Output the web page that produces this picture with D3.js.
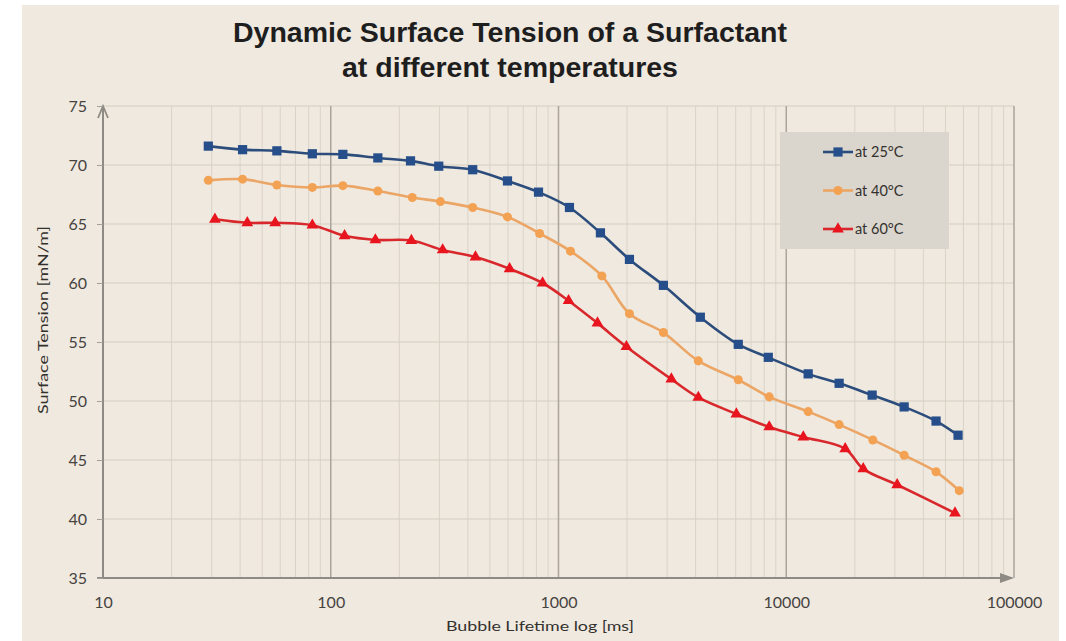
<!DOCTYPE html>
<html>
<head>
<meta charset="utf-8">
<script src="https://cdn.jsdelivr.net/npm/d3@7"></script>
<style>
  body { margin: 0; background: #ffffff; }
  svg { display: block; }
</style>
</head>
<body>
<svg id="main-chart"></svg>
<script>
// bubble lifetime [ms] and surface tension [mN/m]
const lifetime25 = [29, 41, 58, 83, 113, 161, 224, 298, 420, 597, 817, 1117, 1528, 2049, 2888, 4195, 6156, 8340, 12480, 17070, 23830, 32940, 45480, 56800];
const tension25  = [71.6, 71.3, 71.2, 70.95, 70.9, 70.6, 70.35, 69.9, 69.6, 68.65, 67.7, 66.4, 64.25, 62.0, 59.8, 57.1, 54.8, 53.7, 52.3, 51.5, 50.5, 49.5, 48.3, 47.1];

const lifetime40 = [29, 41, 58, 83, 113, 161, 228, 303, 420, 597, 826, 1129, 1550, 2049, 2888, 4110, 6156, 8420, 12480, 17070, 24000, 32940, 45480, 57500];
const tension40  = [68.7, 68.8, 68.3, 68.1, 68.25, 67.8, 67.25, 66.9, 66.4, 65.6, 64.2, 62.7, 60.6, 57.4, 55.8, 53.4, 51.8, 50.35, 49.1, 48.0, 46.7, 45.4, 44.0, 42.4];

const lifetime60 = [31, 43, 57, 83, 115, 157, 226, 310, 432, 610, 851, 1107, 1483, 1987, 3130, 4110, 6040, 8420, 11880, 18150, 21780, 30690, 55080];
const tension60  = [65.4, 65.1, 65.1, 64.9, 64.0, 63.65, 63.6, 62.8, 62.2, 61.2, 60.0, 58.5, 56.6, 54.6, 51.85, 50.3, 48.9, 47.8, 46.95, 45.95, 44.25, 42.9, 40.5];

const seriesNames = ["at 25°C", "at 40°C", "at 60°C"];
const xTicks = [10, 100, 1000, 10000, 100000];
const yTicks = [35, 40, 45, 50, 55, 60, 65, 70, 75];

const width = 1066, height = 641;
const plotLeft = 103, plotRight = 1014, plotTop = 106, plotBottom = 578;

const series = [
  {name: seriesNames[0], x: lifetime25, y: tension25, color: "#254e8a", line: "#2c4d7c", symbol: d3.symbolSquare, size: 85},
  {name: seriesNames[1], x: lifetime40, y: tension40, color: "#f3a253", line: "#eba565", symbol: d3.symbolCircle, size: 64},
  {name: seriesNames[2], x: lifetime60, y: tension60, color: "#e8141e", line: "#d8282c", symbol: d3.symbolTriangle, size: 60}
];

const x = d3.scaleLog().domain([10, 100000]).range([plotLeft, plotRight]);
const y = d3.scaleLinear().domain([35, 75]).range([plotBottom, plotTop]);

const svg = d3.select("#main-chart")
    .attr("width", width)
    .attr("height", height);

svg.append("rect")
    .attr("x", 22).attr("y", 5)
    .attr("width", 1037).attr("height", 636)
    .attr("fill", "#f0e9df");

const font = "Lato, 'DejaVu Sans', sans-serif";

// minor vertical grid
const minor = [];
for (let dec = 10; dec < 100000; dec *= 10)
  for (let k = 2; k <= 9; k++) minor.push(dec * k);

svg.append("g")
  .selectAll("line")
  .data(minor)
  .join("line")
    .attr("x1", d => x(d)).attr("x2", d => x(d))
    .attr("y1", plotTop).attr("y2", plotBottom)
    .attr("stroke", "#d9d3c8")
    .attr("stroke-width", 1);

// horizontal grid
svg.append("g")
  .selectAll("line")
  .data(yTicks.slice(1))
  .join("line")
    .attr("x1", plotLeft).attr("x2", plotRight)
    .attr("y1", d => y(d)).attr("y2", d => y(d))
    .attr("stroke", "#d3cdc2")
    .attr("stroke-width", 1.2);

// major vertical grid
svg.append("g")
  .selectAll("line")
  .data(xTicks.slice(1))
  .join("line")
    .attr("x1", d => x(d)).attr("x2", d => x(d))
    .attr("y1", plotTop).attr("y2", plotBottom)
    .attr("stroke", "#aaa59c")
    .attr("stroke-width", 1.5);

// axes with arrow heads
const axisColor = "#8e8b84";
svg.append("line")
    .attr("x1", plotLeft).attr("x2", plotLeft)
    .attr("y1", plotBottom).attr("y2", plotTop + 2)
    .attr("stroke", axisColor).attr("stroke-width", 2);
svg.append("path")
    .attr("d", `M${plotLeft - 5},${plotTop + 12} L${plotLeft},${plotTop} L${plotLeft + 5},${plotTop + 12}`)
    .attr("fill", "none").attr("stroke", axisColor).attr("stroke-width", 1.8);

svg.append("line")
    .attr("x1", plotLeft - 6).attr("x2", plotRight - 2)
    .attr("y1", plotBottom).attr("y2", plotBottom)
    .attr("stroke", axisColor).attr("stroke-width", 2);
svg.append("path")
    .attr("d", `M${plotRight - 14},${plotBottom - 5} L${plotRight},${plotBottom} L${plotRight - 14},${plotBottom + 5} Z`)
    .attr("fill", axisColor);

// y tick marks and labels
const yAxis = svg.append("g")
    .attr("transform", `translate(${plotLeft},0)`)
    .call(d3.axisLeft(y).tickValues(yTicks).tickSize(6).tickPadding(10));
yAxis.select(".domain").remove();
yAxis.selectAll(".tick line").attr("stroke", "#a39f97");
yAxis.selectAll("text")
    .attr("font-family", font)
    .attr("font-size", 16)
    .attr("fill", "#46433f");

// x labels
const xAxis = svg.append("g")
    .attr("transform", `translate(0,${plotBottom})`)
    .call(d3.axisBottom(x).tickValues(xTicks).tickSize(0).tickPadding(19).tickFormat(d3.format("d")));
xAxis.select(".domain").remove();
xAxis.selectAll("text")
    .attr("font-family", font)
    .attr("font-size", 16)
    .attr("fill", "#46433f");

// lines and markers
const line = d3.line()
    .x(d => x(d[0]))
    .y(d => y(d[1]))
    .curve(d3.curveCatmullRom.alpha(0.5));

series.forEach(s => {
  const pts = s.x.map((v, i) => [v, s.y[i]]);
  svg.append("path")
      .datum(pts)
      .attr("fill", "none")
      .attr("stroke", s.line)
      .attr("stroke-width", 2.6)
      .attr("d", line);
  svg.append("g")
    .selectAll("path")
    .data(pts)
    .join("path")
      .attr("transform", d => `translate(${x(d[0])},${y(d[1])})`)
      .attr("d", d3.symbol(s.symbol, s.size))
      .attr("fill", s.color);
});

// legend
const legend = svg.append("g");
legend.append("rect")
    .attr("x", 780).attr("y", 132)
    .attr("width", 169).attr("height", 117)
    .attr("fill", "#dad5cd");

series.forEach((s, i) => {
  const ly = 152 + i * 38.5;
  legend.append("line")
      .attr("x1", 823).attr("x2", 853)
      .attr("y1", ly).attr("y2", ly)
      .attr("stroke", s.line).attr("stroke-width", 2.6);
  legend.append("path")
      .attr("transform", `translate(838,${ly})`)
      .attr("d", d3.symbol(s.symbol, s.size))
      .attr("fill", s.color);
  legend.append("text")
      .attr("x", 855).attr("y", ly + 5)
      .attr("font-family", font)
      .attr("font-size", 14.5)
      .attr("fill", "#33312e")
      .text(s.name);
});

// titles
const title = svg.append("g")
    .attr("font-family", "'Liberation Sans', Arial, sans-serif")
    .attr("font-weight", "bold")
    .attr("font-size", 28)
    .attr("fill", "#1e1e1e")
    .attr("text-anchor", "middle");
title.append("text")
    .attr("x", 510).attr("y", 42)
    .attr("textLength", 554).attr("lengthAdjust", "spacingAndGlyphs")
    .text("Dynamic Surface Tension of a Surfactant");
title.append("text")
    .attr("x", 510).attr("y", 77)
    .attr("textLength", 336).attr("lengthAdjust", "spacingAndGlyphs")
    .text("at different temperatures");

svg.append("text")
    .attr("x", 540).attr("y", 631)
    .attr("text-anchor", "middle")
    .attr("font-family", font)
    .attr("font-size", 14)
    .attr("fill", "#33312e")
    .attr("textLength", 188).attr("lengthAdjust", "spacingAndGlyphs")
    .text("Bubble Lifetime log [ms]");

svg.append("text")
    .attr("transform", `translate(48,320) rotate(-90)`)
    .attr("text-anchor", "middle")
    .attr("font-family", font)
    .attr("font-size", 14)
    .attr("fill", "#33312e")
    .attr("textLength", 188).attr("lengthAdjust", "spacingAndGlyphs")
    .text("Surface Tension [mN/m]");
</script>
</body>
</html>
